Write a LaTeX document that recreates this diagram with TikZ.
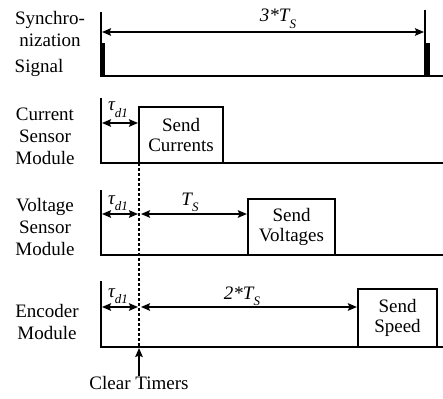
\documentclass[tikz,border=0pt]{standalone}
\usepackage{fontspec}
\setmainfont{Liberation Serif}
\usetikzlibrary{arrows.meta}
\newcommand\lsub[1]{\raisebox{-0.35em}{\fontsize{13}{13}\selectfont\itshape #1}}
\begin{document}
\begin{tikzpicture}[x=1pt,y=-1pt,
  lbl/.style={font=\fontsize{19}{22}\selectfont, align=center, inner sep=0pt},
  boxtxt/.style={draw, line width=2.2pt, font=\fontsize{19}{20}\selectfont, align=center, inner sep=0pt},
  sig/.style={line width=2.2pt},
  dim/.style={line width=1.7pt, {Stealth[length=9pt,width=7.5pt,inset=1.5pt]}-{Stealth[length=9pt,width=7.5pt,inset=1.5pt]}},
  ann/.style={font=\fontsize{19}{20}\selectfont\itshape, inner sep=0pt, anchor=base},
]
\useasboundingbox (0,0) rectangle (443,398);
% row labels
\node[lbl] (l1) at (50,29) {Synchro-\\nization};
\node[lbl] (l1b) at (39,68) {Signal};
\node[lbl] (l2) at (45,136) {Current\\Sensor\\Module};
\node[lbl] (l3) at (45,227) {Voltage\\Sensor\\Module};
\node[lbl] (l4) at (47,322) {Encoder\\Module};
% sync row
\coordinate (s0) at (101,76);
\coordinate (s1) at (425,76);
\coordinate (s0t) at (101,12);
\coordinate (s1t) at (425,10);
\coordinate (send) at (443,76);
\draw[sig] (s0t) -- (s0) -- (send);
\draw[sig] (s1t) -- (s1);
\fill (99.5,43) rectangle (104.5,77);
\fill (424.5,43) rectangle (430,77);
\coordinate (sa) at (102,32);
\coordinate (sb) at (424,32);
\draw[dim] (sa) -- (sb);
\node[ann] (t3) at (278,22) {3*T\lsub{S}};
% current row
\coordinate (c0t) at (101,98);
\coordinate (c0) at (101,163);
\coordinate (cend) at (443,163);
\draw[sig] (c0t) -- (c0) -- (cend);
\node[boxtxt, minimum width=84pt, minimum height=56pt] (cur) at (181,135) {Send\\Currents};
\coordinate (ca) at (102,123);
\coordinate (cb) at (138,123);
\draw[dim] (ca) -- (cb);
\node[ann] (tc) at (118,111) {τ\lsub{d1}};
% voltage row
\coordinate (v0t) at (101,190);
\coordinate (v0) at (101,255);
\coordinate (vend) at (443,255);
\draw[sig] (v0t) -- (v0) -- (vend);
\node[boxtxt, minimum width=87pt, minimum height=56pt] (vol) at (291.5,227) {Send\\Voltages};
\coordinate (va) at (102,214);
\coordinate (vb) at (138,214);
\coordinate (vc) at (141,214);
\draw[dim] (va) -- (vb);
\draw[dim] (vc) -- (vol.west |- vc);
\node[ann] (tv) at (118,204) {τ\lsub{d1}};
\node[ann] (tsv) at (190,205) {T\lsub{S}};
% encoder row
\coordinate (e0t) at (101,281);
\coordinate (e0) at (101,347);
\coordinate (eend) at (443,347);
\draw[sig] (e0t) -- (e0) -- (eend);
\node[boxtxt, minimum width=79pt, minimum height=58pt] (enc) at (397.5,318) {Send\\Speed};
\coordinate (ea) at (102,307);
\coordinate (eb) at (138,307);
\coordinate (ec) at (141,307);
\draw[dim] (ea) -- (eb);
\draw[dim] (ec) -- (enc.west |- ec);
\node[ann] (te) at (118,297) {τ\lsub{d1}};
\node[ann] (t2) at (242,299) {2*T\lsub{S}};
% clear timers
\coordinate (d0) at (139,163);
\coordinate (d1) at (139,347);
\draw[line width=2pt, dash pattern=on 3pt off 2pt] (d0) -- (d1);
\node[lbl] (clr) at (139,383) {Clear Timers};
\coordinate (ct) at (139,348);
\draw[line width=1.7pt, -{Stealth[length=9pt,width=7.5pt,inset=1.5pt]}] (clr.north) -- (ct);
\end{tikzpicture}
\end{document}
